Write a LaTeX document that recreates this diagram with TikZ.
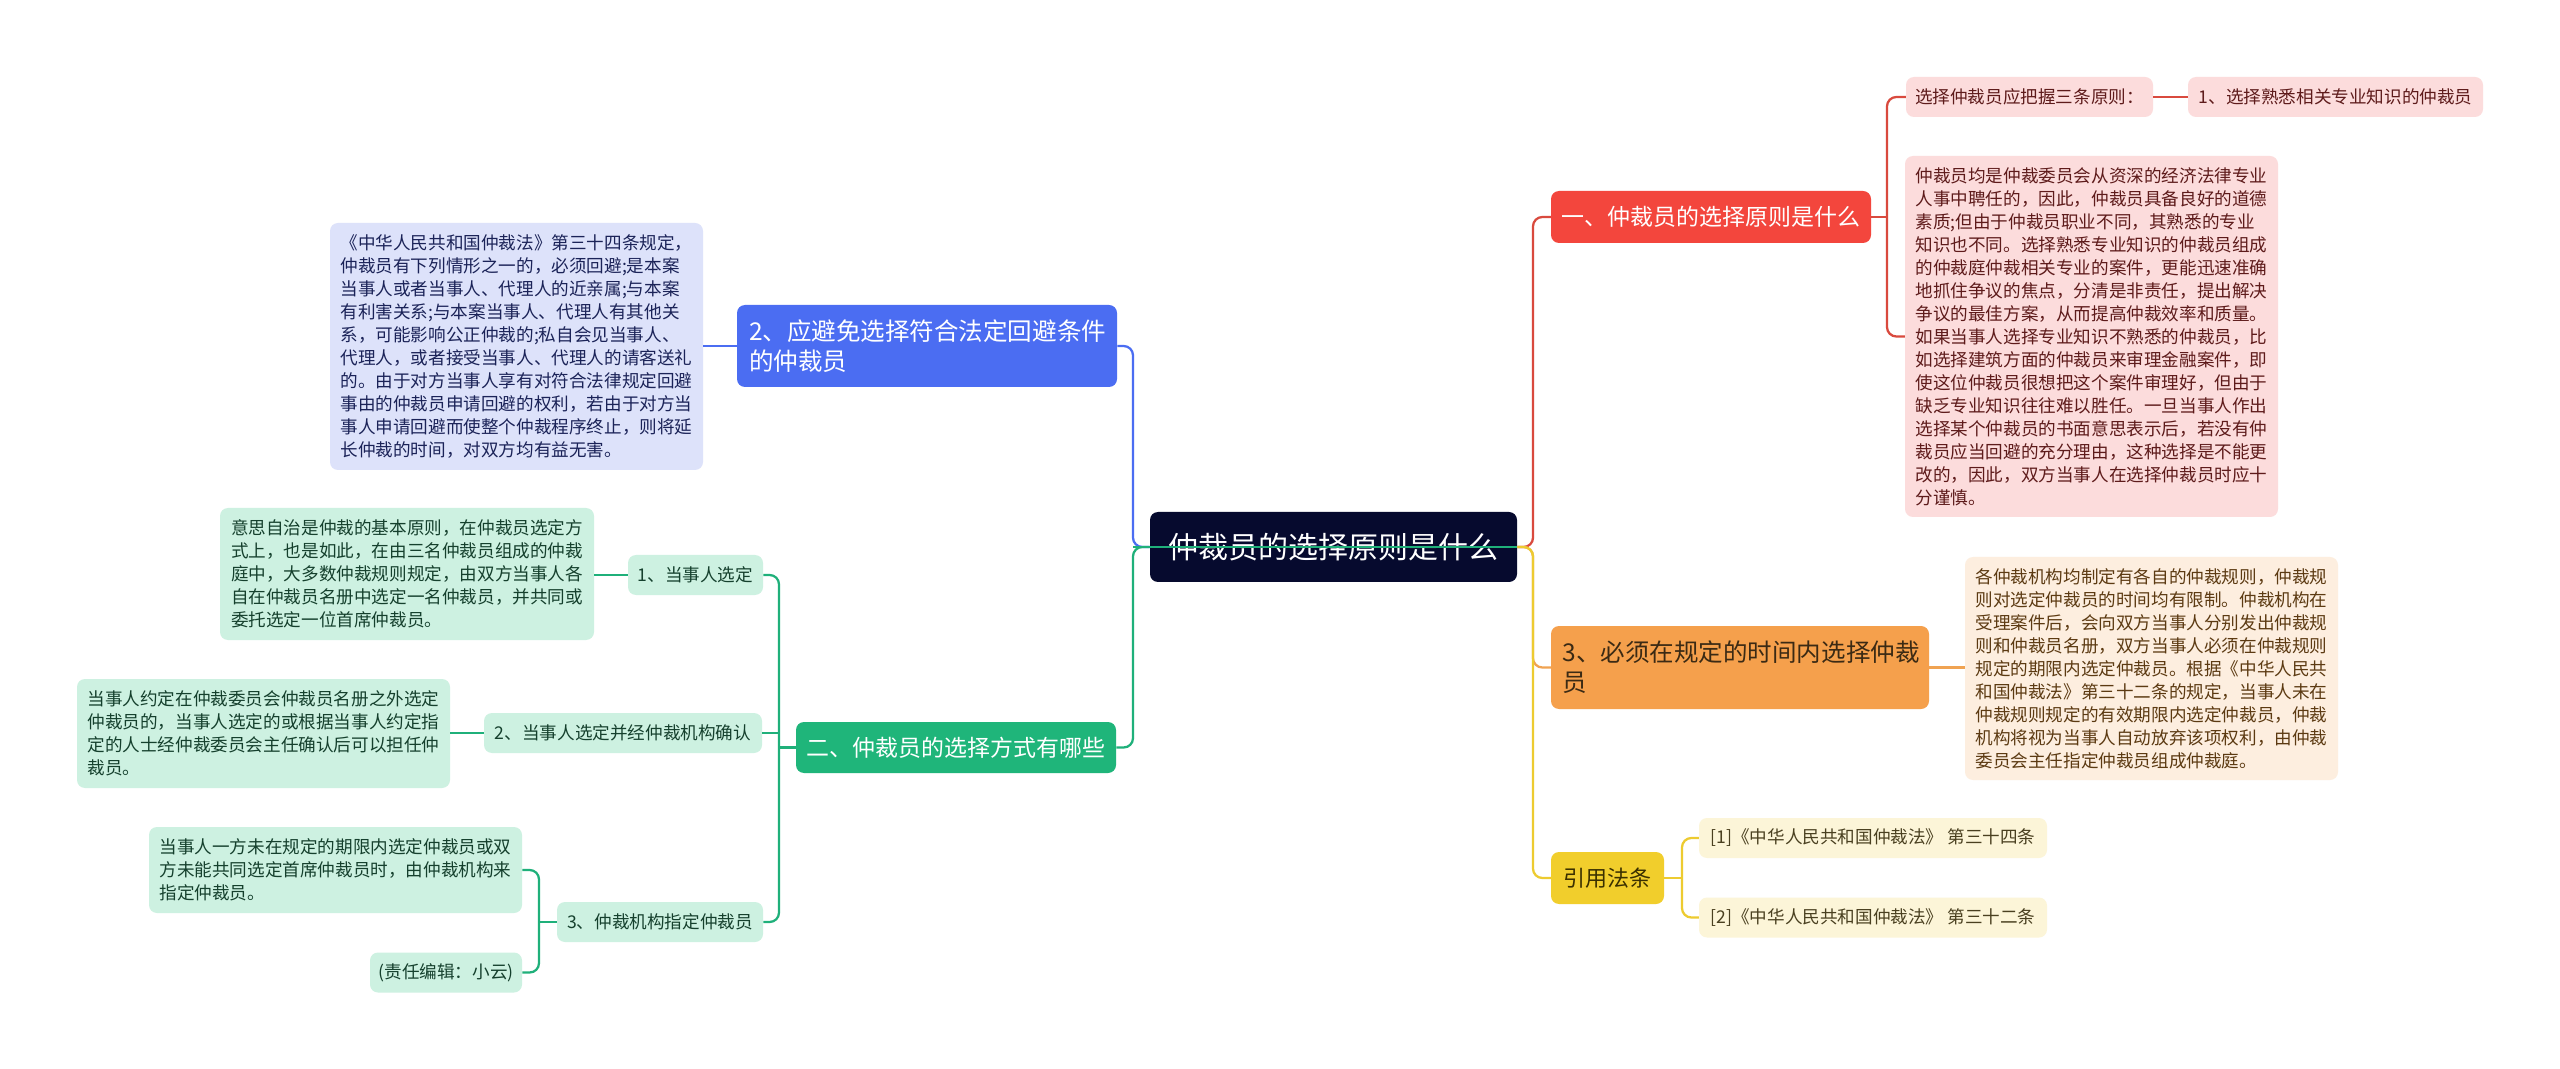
\documentclass[tikz,border=0pt]{standalone}
\usepackage{fontspec}
\newfontfamily\cjk{Noto Sans CJK SC}
\definecolor{cnav}{HTML}{060A2E}
\definecolor{rmain}{HTML}{F3463D}
\definecolor{rline}{HTML}{D94A3E}
\definecolor{rleaf}{HTML}{FCDCDC}
\definecolor{rtext}{HTML}{5E1B1B}
\definecolor{omain}{HTML}{F5A04C}
\definecolor{oline}{HTML}{F0A352}
\definecolor{oleaf}{HTML}{FDEEDF}
\definecolor{otext}{HTML}{5C3A12}
\definecolor{omtext}{HTML}{3B2A14}
\definecolor{ymain}{HTML}{F1CE2C}
\definecolor{yline}{HTML}{EDCB30}
\definecolor{yleaf}{HTML}{FCF5D8}
\definecolor{ytext}{HTML}{4A4020}
\definecolor{ymtext}{HTML}{3A3000}
\definecolor{bmain}{HTML}{4B6DF2}
\definecolor{bline}{HTML}{4B6DF2}
\definecolor{bleaf}{HTML}{DDE2FA}
\definecolor{btext}{HTML}{1B2358}
\definecolor{gmain}{HTML}{1FB57A}
\definecolor{gline}{HTML}{1FB07A}
\definecolor{gleaf}{HTML}{CDF1E1}
\definecolor{gtext}{HTML}{15402D}
\tikzset{
  basebox/.style={rounded corners=6pt, inner sep=0pt, draw=none},
  mainbox/.style={basebox, font=\cjk\fontsize{17.2}{22.5}\selectfont, align=center},
  twobox/.style={basebox, font=\cjk\fontsize{18.4}{22.5}\selectfont, align=left},
  leafbox/.style={basebox, font=\cjk\fontsize{13.2}{17.25}\selectfont, align=left},
  conn/.style={line width=1.7pt, rounded corners=7pt}
}
\begin{document}
\begin{tikzpicture}[x=0.75pt, y=-0.75pt]
\useasboundingbox[fill=white] (0,0) rectangle (2560,1069);

% junction coordinates
\coordinate (jl) at (1133,547);
\coordinate (jr) at (1533,547);
\coordinate (jr1) at (1887,217);
\coordinate (jy) at (1682,878);
\coordinate (jg) at (779,747.5);
\coordinate (jg3) at (539,922);

% nodes
\node[basebox, fill=cnav, text=white, font=\cjk\fontsize{22.5}{27}\selectfont, minimum width=275.25pt, minimum height=52.5pt] (c) at (1333.5,547) {仲裁员的选择原则是什么};

\node[mainbox, fill=rmain, text=white, minimum width=240pt, minimum height=39pt] (n1) at (1711,217) {一、仲裁员的选择原则是什么};
\node[twobox, fill=omain, text=omtext, minimum width=283.5pt, minimum height=62.25pt, text width=266.25pt] (n3) at (1740,667.5) {3、必须在规定的时间内选择仲裁\\员};
\node[mainbox, fill=ymain, text=ymtext, font=\cjk\fontsize{16.5}{20}\selectfont, minimum width=84.75pt, minimum height=39pt] (y) at (1607.5,878) {引用法条};
\node[twobox, fill=bmain, text=white, minimum width=285pt, minimum height=61.5pt, text width=267pt] (b) at (927,346) {2、应避免选择符合法定回避条件\\的仲裁员};
\node[mainbox, fill=gmain, text=white, minimum width=240pt, minimum height=38.25pt] (g) at (956,747.5) {二、仲裁员的选择方式有哪些};

% red leaves
\node[leafbox, fill=rleaf, text=rtext, minimum width=185.25pt, minimum height=30pt] (r1) at (2029.5,97) {选择仲裁员应把握三条原则：};
\node[leafbox, fill=rleaf, text=rtext, minimum width=221.25pt, minimum height=30pt] (r1a) at (2335.5,97) {1、选择熟悉相关专业知识的仲裁员};
\node[leafbox, fill=rleaf, text=rtext, minimum width=279.75pt, minimum height=270.75pt] (r2) at (2091.5,336.5) {仲裁员均是仲裁委员会从资深的经济法律专业\\人事中聘任的，因此，仲裁员具备良好的道德\\素质;但由于仲裁员职业不同，其熟悉的专业\\知识也不同。选择熟悉专业知识的仲裁员组成\\的仲裁庭仲裁相关专业的案件，更能迅速准确\\地抓住争议的焦点，分清是非责任，提出解决\\争议的最佳方案，从而提高仲裁效率和质量。\\如果当事人选择专业知识不熟悉的仲裁员，比\\如选择建筑方面的仲裁员来审理金融案件，即\\使这位仲裁员很想把这个案件审理好，但由于\\缺乏专业知识往往难以胜任。一旦当事人作出\\选择某个仲裁员的书面意思表示后，若没有仲\\裁员应当回避的充分理由，这种选择是不能更\\改的，因此，双方当事人在选择仲裁员时应十\\分谨慎。};

% orange leaf
\node[leafbox, fill=oleaf, text=otext, minimum width=279.75pt, minimum height=167.25pt] (n3a) at (2151.5,668.5) {各仲裁机构均制定有各自的仲裁规则，仲裁规\\则对选定仲裁员的时间均有限制。仲裁机构在\\受理案件后，会向双方当事人分别发出仲裁规\\则和仲裁员名册，双方当事人必须在仲裁规则\\规定的期限内选定仲裁员。根据《中华人民共\\和国仲裁法》第三十二条的规定，当事人未在\\仲裁规则规定的有效期限内选定仲裁员，仲裁\\机构将视为当事人自动放弃该项权利，由仲裁\\委员会主任指定仲裁员组成仲裁庭。};

% yellow leaves
\node[leafbox, fill=yleaf, text=ytext, minimum width=261pt, minimum height=30pt] (y1) at (1873,838) {[1]《中华人民共和国仲裁法》 第三十四条};
\node[leafbox, fill=yleaf, text=ytext, minimum width=261pt, minimum height=30pt] (y2) at (1873,917.5) {[2]《中华人民共和国仲裁法》 第三十二条};

% blue leaf
\node[leafbox, fill=bleaf, text=btext, minimum width=279.75pt, minimum height=185.25pt] (b1) at (516.5,346.5) {《中华人民共和国仲裁法》第三十四条规定，\\仲裁员有下列情形之一的，必须回避;是本案\\当事人或者当事人、代理人的近亲属;与本案\\有利害关系;与本案当事人、代理人有其他关\\系，可能影响公正仲裁的;私自会见当事人、\\代理人，或者接受当事人、代理人的请客送礼\\的。由于对方当事人享有对符合法律规定回避\\事由的仲裁员申请回避的权利，若由于对方当\\事人申请回避而使整个仲裁程序终止，则将延\\长仲裁的时间，对双方均有益无害。};

% green leaves
\node[leafbox, fill=gleaf, text=gtext, minimum width=101.25pt, minimum height=30pt] (g1) at (695.5,575) {1、当事人选定};
\node[leafbox, fill=gleaf, text=gtext, minimum width=280.5pt, minimum height=99pt] (g1a) at (407,574) {意思自治是仲裁的基本原则，在仲裁员选定方\\式上，也是如此，在由三名仲裁员组成的仲裁\\庭中，大多数仲裁规则规定，由双方当事人各\\自在仲裁员名册中选定一名仲裁员，并共同或\\委托选定一位首席仲裁员。};
\node[leafbox, fill=gleaf, text=gtext, minimum width=208.5pt, minimum height=30pt] (g2) at (623,733) {2、当事人选定并经仲裁机构确认};
\node[leafbox, fill=gleaf, text=gtext, minimum width=279.75pt, minimum height=81.75pt] (g2a) at (263.5,733.5) {当事人约定在仲裁委员会仲裁员名册之外选定\\仲裁员的，当事人选定的或根据当事人约定指\\定的人士经仲裁委员会主任确认后可以担任仲\\裁员。};
\node[leafbox, fill=gleaf, text=gtext, minimum width=154.5pt, minimum height=30pt] (g3) at (660,922) {3、仲裁机构指定仲裁员};
\node[leafbox, fill=gleaf, text=gtext, minimum width=279.75pt, minimum height=64.5pt] (g3a) at (335.5,870) {当事人一方未在规定的期限内选定仲裁员或双\\方未能共同选定首席仲裁员时，由仲裁机构来\\指定仲裁员。};
\node[leafbox, fill=gleaf, text=gtext, minimum width=114pt, minimum height=30pt] (g3b) at (446,972.5) {(责任编辑：小云)};

% connectors from centre
\draw[conn, rline] (c.east) -- (jr) -- (jr |- n1.west) -- (n1.west);
\draw[conn, oline] (c.east) -- (jr) -- (jr |- n3.west) -- (n3.west);
\draw[conn, yline] (c.east) -- (jr) -- (jr |- y.west) -- (y.west);
\draw[conn, bline] (c.west) -- (jl) -- (jl |- b.east) -- (b.east);
\draw[conn, gline] (c.west) -- (jl) -- (jl |- g.east) -- (g.east);
\draw[line width=1.7pt, gline] (jl) -- (c.east);

% red branch
\draw[conn, rline] (n1.east) -- (jr1);
\draw[conn, rline] (r1.west) -- (jr1 |- r1.west) -- (jr1 |- r2.west) -- (r2.west);
\draw[conn, rline] (r1.east) -- (r1a.west);

% orange branch
\draw[conn, oline] (n3.east) -- (n3.east -| n3a.west);

% yellow branch
\draw[conn, yline] (y.east) -- (jy);
\draw[conn, yline] (y1.west) -- (jy |- y1.west) -- (jy |- y2.west) -- (y2.west);

% blue branch
\draw[conn, bline] (b.west) -- (b.west -| b1.east);

% green branch
\draw[conn, gline] (g.west) -- (jg);
\draw[conn, gline] (g1.east) -- (jg |- g1.east) -- (jg |- g3.east) -- (g3.east);
\draw[conn, gline] (g2.east) -- (jg |- g2.east);
\draw[conn, gline] (g1.west) -- (g1.west -| g1a.east);
\draw[conn, gline] (g2.west) -- (g2.west -| g2a.east);
\draw[conn, gline] (g3.west) -- (jg3);
\draw[conn, gline] (g3a.east) -- (jg3 |- g3a.east) -- (jg3 |- g3b.east) -- (g3b.east);
\end{tikzpicture}
\end{document}
